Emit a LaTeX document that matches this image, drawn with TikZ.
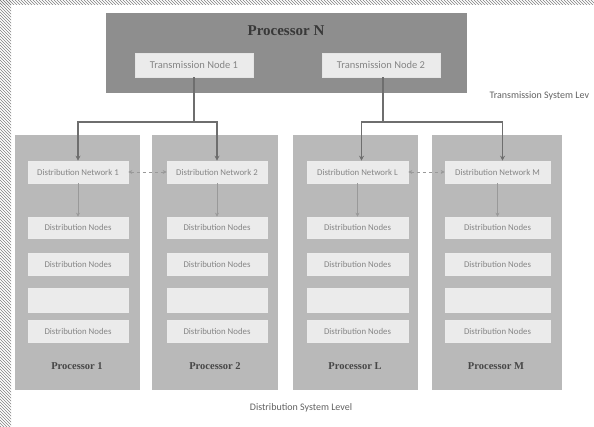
\documentclass[tikz,border=0pt]{standalone}
\usepackage{fontspec}
\setmainfont{Liberation Serif}
\setsansfont{Carlito}
\usetikzlibrary{arrows.meta,patterns}
\definecolor{darkbox}{HTML}{8E8E8E}
\definecolor{colbox}{HTML}{B9B9B9}
\definecolor{innerbox}{HTML}{EBEBEB}
\definecolor{innertext}{HTML}{858585}
\definecolor{linecol}{HTML}{6E6E6E}
\tikzset{
  procbox/.style={draw=none,fill=colbox,minimum width=125pt,minimum height=255pt,anchor=north west,inner sep=0pt},
  inbox/.style={draw=white!85!gray,line width=0.6pt,fill=innerbox,minimum height=22pt,inner sep=0pt,font=\sffamily\fontsize{8.8}{9}\selectfont,text=innertext},
  tnbox/.style={draw=white!80!gray,line width=0.6pt,fill=innerbox,minimum width=118pt,minimum height=24pt,inner sep=0pt,font=\sffamily\fontsize{10.5}{11}\selectfont,text=innertext},
  plabel/.style={font=\bfseries\fontsize{10.5}{11}\selectfont,text=black!72},
  conn/.style={draw=linecol,line width=1.1pt,-{Stealth[length=5pt,width=5pt]}},
  thinconn/.style={draw=linecol!70,line width=0.5pt,-{Stealth[length=4pt,width=4pt]}},
  biconn/.style={draw=linecol!70,line width=0.5pt,dashed,{Stealth[length=4pt,width=4pt]}-{Stealth[length=4pt,width=4pt]}},
  lvl/.style={font=\sffamily\fontsize{10}{11}\selectfont,text=black!62}
}
\begin{document}
\begin{tikzpicture}[x=1pt,y=-1pt]
\useasboundingbox (0,0) rectangle (594,426);
% edge hatching
\fill[pattern=north west lines,pattern color=gray] (0,0) rectangle (594,4);
\fill[pattern=north west lines,pattern color=gray] (0,0) rectangle (11,426);
% Processor N
\node[draw=none,fill=darkbox,minimum width=361pt,minimum height=80pt,anchor=north west,inner sep=0pt] (procN) at (106,13) {};
\node[font=\bfseries\fontsize{15}{16}\selectfont,text=black!78] (procNlabel) at (286,31) {Processor N};
\node[tnbox] (tn1) at (194,65) {Transmission Node 1};
\node[tnbox] (tn2) at (381,65) {Transmission Node 2};
\node[lvl,anchor=west] (tsl) at (486,96) {Transmission System Lev};
% columns
\node[procbox] (c1) at (15,135) {};
\node[procbox,minimum width=126pt] (c2) at (152,135) {};
\node[procbox] (c3) at (293,135) {};
\node[procbox,minimum width=130pt] (c4) at (432,135) {};
% column 1
\node[inbox,minimum width=100pt] (dn1) at (78,172) {Distribution Network 1};
\node[inbox,minimum width=100pt,minimum height=21pt] (a1) at (78,227.5) {Distribution Nodes};
\node[inbox,minimum width=100pt] (b1) at (78,264) {Distribution Nodes};
\node[inbox,minimum width=100pt,minimum height=24pt] (e1) at (78,300) {};
\node[inbox,minimum width=100pt] (d1) at (78,331) {Distribution Nodes};
\node[plabel] (p1) at (77,366) {Processor 1};
% column 2
\node[inbox,minimum width=100pt] (dn2) at (217,172) {Distribution Network 2};
\node[inbox,minimum width=100pt,minimum height=21pt] (a2) at (217,227.5) {Distribution Nodes};
\node[inbox,minimum width=100pt] (b2) at (217,264) {Distribution Nodes};
\node[inbox,minimum width=100pt,minimum height=24pt] (e2) at (217,300) {};
\node[inbox,minimum width=100pt] (d2) at (217,331) {Distribution Nodes};
\node[plabel] (p2) at (215,366) {Processor 2};
% column 3
\node[inbox,minimum width=101pt] (dnL) at (357.5,172) {Distribution Network L};
\node[inbox,minimum width=101pt,minimum height=21pt] (a3) at (357.5,227.5) {Distribution Nodes};
\node[inbox,minimum width=101pt] (b3) at (357.5,264) {Distribution Nodes};
\node[inbox,minimum width=101pt,minimum height=24pt] (e3) at (357.5,300) {};
\node[inbox,minimum width=101pt] (d3) at (357.5,331) {Distribution Nodes};
\node[plabel] (p3) at (355,366) {Processor L};
% column 4
\node[inbox,minimum width=105pt] (dnM) at (497.5,172) {Distribution Network M};
\node[inbox,minimum width=105pt,minimum height=21pt] (a4) at (497.5,227.5) {Distribution Nodes};
\node[inbox,minimum width=105pt] (b4) at (497.5,264) {Distribution Nodes};
\node[inbox,minimum width=105pt,minimum height=24pt] (e4) at (497.5,300) {};
\node[inbox,minimum width=105pt] (d4) at (497.5,331) {Distribution Nodes};
\node[plabel] (p4) at (496,366) {Processor M};
% level label
\node[lvl] (dsl) at (301,408) {Distribution System Level};
% connectors from transmission nodes
\coordinate (j1) at (194,122);
\coordinate (j2) at (383,122);
\draw[draw=linecol,line width=1.1pt] (tn1.south -| j1) -- (j1);
\draw[draw=linecol,line width=1.1pt] (tn2.south -| j2) -- (j2);
\draw[conn] (j1) -| (dn1.north);
\draw[conn] (j1) -| (dn2.north);
\draw[conn] (j2) -| ([xshift=4pt]dnL.north);
\draw[conn] (j2) -| ([xshift=5pt]dnM.north);
% network-to-network
\draw[biconn] (dn1.east) -- (dn2.west);
\draw[biconn] (dnL.east) -- (dnM.west);
% network to nodes
\draw[thinconn] (dn1.south) -- (a1.north);
\draw[thinconn] (dn2.south) -- (a2.north);
\draw[thinconn] (dnL.south) -- (a3.north);
\draw[thinconn] (dnM.south) -- (a4.north);
\end{tikzpicture}
\end{document}
